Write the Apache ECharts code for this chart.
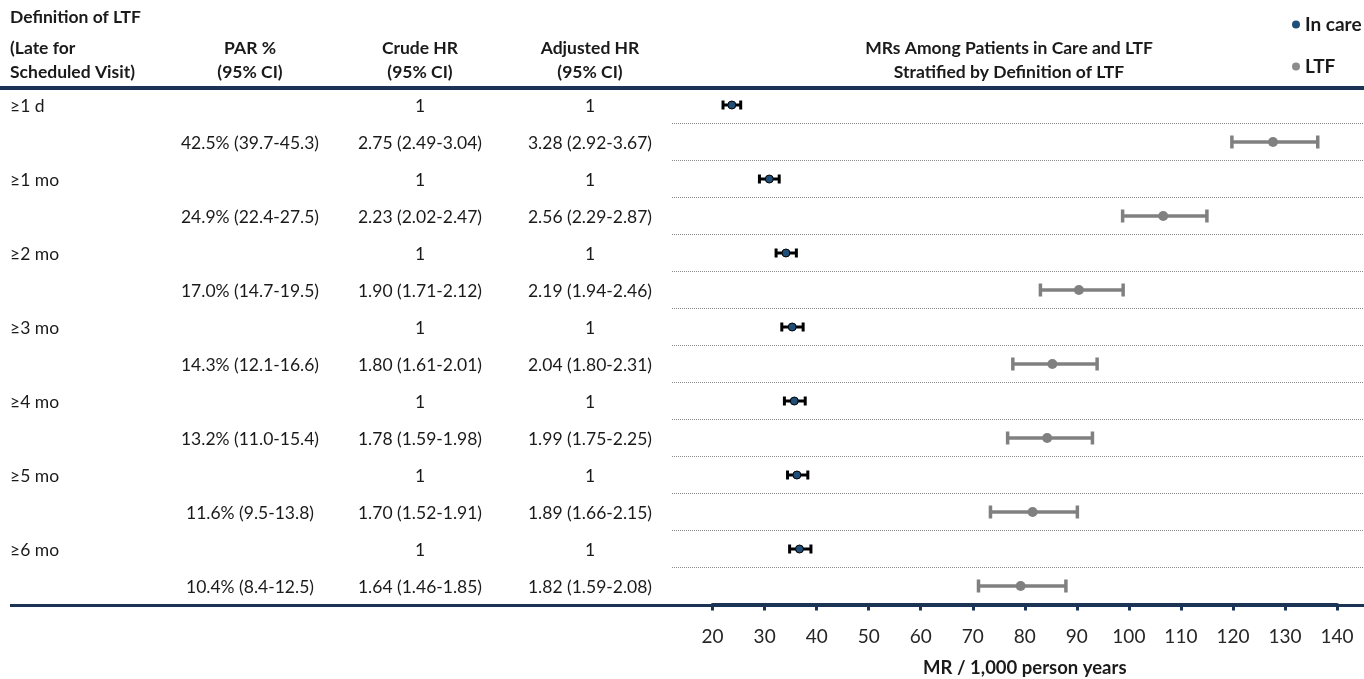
<!DOCTYPE html>
<html>
<head>
<meta charset="utf-8">
<script src="https://cdn.jsdelivr.net/npm/echarts@6/dist/echarts.min.js"></script>
<style>
html,body{margin:0;padding:0;background:#fff;}
#chart{width:1364px;height:679px;}
</style>
</head>
<body>
<div id="chart"></div>
<script>
// ---- data ----
const definitions = ['≥1 d', '≥1 mo', '≥2 mo', '≥3 mo', '≥4 mo', '≥5 mo', '≥6 mo'];
const parCI = ['42.5% (39.7-45.3)', '24.9% (22.4-27.5)', '17.0% (14.7-19.5)', '14.3% (12.1-16.6)', '13.2% (11.0-15.4)', '11.6% (9.5-13.8)', '10.4% (8.4-12.5)'];
const crudeHR = ['2.75 (2.49-3.04)', '2.23 (2.02-2.47)', '1.90 (1.71-2.12)', '1.80 (1.61-2.01)', '1.78 (1.59-1.98)', '1.70 (1.52-1.91)', '1.64 (1.46-1.85)'];
const adjustedHR = ['3.28 (2.92-3.67)', '2.56 (2.29-2.87)', '2.19 (1.94-2.46)', '2.04 (1.80-2.31)', '1.99 (1.75-2.25)', '1.89 (1.66-2.15)', '1.82 (1.59-2.08)'];
const referenceHR = '1';
const inCareMR = [23.7, 30.9, 34.1, 35.3, 35.7, 36.2, 36.7];
const inCareLow = [22.0, 29.0, 32.2, 33.3, 33.8, 34.4, 34.8];
const inCareHigh = [25.4, 32.8, 36.1, 37.4, 37.8, 38.3, 38.9];
const ltfMR = [127.7, 106.6, 90.4, 85.3, 84.3, 81.5, 79.2];
const ltfLow = [119.8, 98.8, 83.0, 77.7, 76.7, 73.4, 71.1];
const ltfHigh = [136.3, 115.0, 98.9, 93.9, 93.0, 90.1, 87.9];
const xTicks = {min: 20, max: 140, interval: 10};
const headerCols = ['PAR %\n(95% CI)', 'Crude HR\n(95% CI)', 'Adjusted HR\n(95% CI)'];
const headerDef1 = 'Definition of LTF';
const headerDef2 = '(Late for\nScheduled Visit)';
const chartTitle = 'MRs Among Patients in Care and LTF\nStratified by Definition of LTF';
const xName = 'MR / 1,000 person years';
const seriesNames = ['In care', 'LTF'];

// ---- build rows (2 per definition: in care, LTF) ----
const nRows = definitions.length * 2;
const rowIds = Array.from({length: nRows}, (_, i) => String(i));
const tableRows = [];
definitions.forEach((d, i) => {
  tableRows.push([2 * i, d, '', referenceHR, referenceHR]);
  tableRows.push([2 * i + 1, '', parCI[i], crudeHR[i], adjustedHR[i]]);
});
const inCarePts = inCareMR.map((v, i) => [v, 2 * i]);
const ltfPts = ltfMR.map((v, i) => [v, 2 * i + 1]);
const inCareBars = inCareLow.map((v, i) => [2 * i, v, inCareHigh[i]]);
const ltfBars = ltfLow.map((v, i) => [2 * i + 1, v, ltfHigh[i]]);

const FONT = 'Lato, "Open Sans", sans-serif';
const NAVY = '#1b3354';
const TXT = '#1a1a1a';
const colX = [10, 250, 420, 590];
const HFONT = 'bold 17.5px ' + FONT;

function errorBar(color, width, cap) {
  return function (params, api) {
    const row = api.value(0);
    const p1 = api.coord([api.value(1), row]);
    const p2 = api.coord([api.value(2), row]);
    const st = {stroke: color, lineWidth: width};
    return {type: 'group', children: [
      {type: 'line', shape: {x1: p1[0], y1: p1[1], x2: p2[0], y2: p2[1]}, style: st},
      {type: 'line', shape: {x1: p1[0], y1: p1[1] - cap, x2: p1[0], y2: p1[1] + cap}, style: st},
      {type: 'line', shape: {x1: p2[0], y1: p2[1] - cap, x2: p2[0], y2: p2[1] + cap}, style: st}
    ]};
  };
}

const chart = echarts.init(document.getElementById('chart'));
const option = {
  animation: false,
  backgroundColor: '#fff',
  grid: {left: 712.6, right: 27, top: 86.5, height: 518, containLabel: false, outerBoundsMode: 'none'},
  legend: {
    orient: 'vertical', left: 1287, top: 10, itemGap: 23,
    itemWidth: 8, itemHeight: 8,
    textStyle: {fontFamily: FONT, fontWeight: 'bold', fontSize: 19, color: TXT},
    data: [
      {name: seriesNames[0], itemStyle: {color: '#1f4e79', borderWidth: 0}},
      {name: seriesNames[1], itemStyle: {color: '#8c8c8c', borderWidth: 0}}
    ]
  },
  xAxis: {
    type: 'value', min: xTicks.min, max: xTicks.max, interval: xTicks.interval,
    axisLine: {show: true, lineStyle: {color: NAVY, width: 4}},
    axisTick: {show: true, inside: false, length: 6, lineStyle: {color: NAVY, width: 3}},
    splitLine: {show: false},
    axisLabel: {fontFamily: FONT, fontSize: 19, color: '#262626', margin: 23},
    name: xName, nameLocation: 'middle', nameGap: 54,
    nameTextStyle: {fontFamily: FONT, fontSize: 18.5, fontWeight: 'bold', color: TXT}
  },
  yAxis: {
    type: 'category', data: rowIds, inverse: true,
    axisLine: {show: false}, axisTick: {show: false}, axisLabel: {show: false}, splitLine: {show: false}
  },
  graphic: [
    {type: 'line', shape: {x1: 0, y1: 88, x2: 1364, y2: 88}, style: {stroke: NAVY, lineWidth: 4}, z: 10},
    {type: 'line', shape: {x1: 10, y1: 605.5, x2: 1364, y2: 605.5}, style: {stroke: NAVY, lineWidth: 3}, z: 0},
    {type: 'text', x: colX[0], y: 17, style: {text: headerDef1, font: HFONT, fill: TXT, textVerticalAlign: 'middle'}},
    {type: 'text', x: colX[0], y: 36, style: {text: headerDef2, font: HFONT, fill: TXT, lineHeight: 24}},
    {type: 'text', x: colX[1], y: 36, style: {text: headerCols[0], font: HFONT, fill: TXT, textAlign: 'center', lineHeight: 24}},
    {type: 'text', x: colX[2], y: 36, style: {text: headerCols[1], font: HFONT, fill: TXT, textAlign: 'center', lineHeight: 24}},
    {type: 'text', x: colX[3], y: 36, style: {text: headerCols[2], font: HFONT, fill: TXT, textAlign: 'center', lineHeight: 24}},
    {type: 'text', x: 1009, y: 36, style: {text: chartTitle, font: HFONT, fill: TXT, textAlign: 'center', lineHeight: 24}}
  ],
  series: [
    {
      type: 'custom', name: 'table', silent: true, clip: false, z: 1,
      data: tableRows,
      encode: {y: 0},
      renderItem: function (params, api) {
        const row = api.value(0);
        const y = api.coord([xTicks.min, row])[1] + 1;
        const half = api.size([0, 1])[1] / 2;
        const d = tableRows[params.dataIndex];
        const ts = (x, t, align) => ({type: 'text', x: x, y: y, style: {text: t, font: '17.5px ' + FONT, fill: TXT, textAlign: align, textVerticalAlign: 'middle'}});
        const ch = [ts(colX[0], d[1], 'left'), ts(colX[1], d[2], 'center'), ts(colX[2], d[3], 'center'), ts(colX[3], d[4], 'center')];
        if (row < nRows - 1) {
          ch.push({type: 'line', shape: {x1: 672, y1: y - 1 + half, x2: 1364, y2: y - 1 + half}, style: {stroke: '#8a8a8a', lineWidth: 1, lineDash: [1, 1]}});
        }
        return {type: 'group', children: ch};
      }
    },
    {type: 'custom', name: 'inCareCI', silent: true, clip: false, z: 3, data: inCareBars, encode: {x: [1, 2], y: 0}, renderItem: errorBar('#000', 3, 4.5)},
    {type: 'custom', name: 'ltfCI', silent: true, clip: false, z: 3, data: ltfBars, encode: {x: [1, 2], y: 0}, renderItem: errorBar('#808080', 3.5, 6.5)},
    {type: 'scatter', name: seriesNames[0], data: inCarePts, symbol: 'circle', symbolSize: 8, z: 5,
      itemStyle: {color: '#1f4e79', borderColor: '#000', borderWidth: 1, opacity: 1}},
    {type: 'scatter', name: seriesNames[1], data: ltfPts, symbol: 'circle', symbolSize: 10, z: 5,
      itemStyle: {color: '#808080', opacity: 1}}
  ]
};
chart.setOption(option);
</script>
</body>
</html>
